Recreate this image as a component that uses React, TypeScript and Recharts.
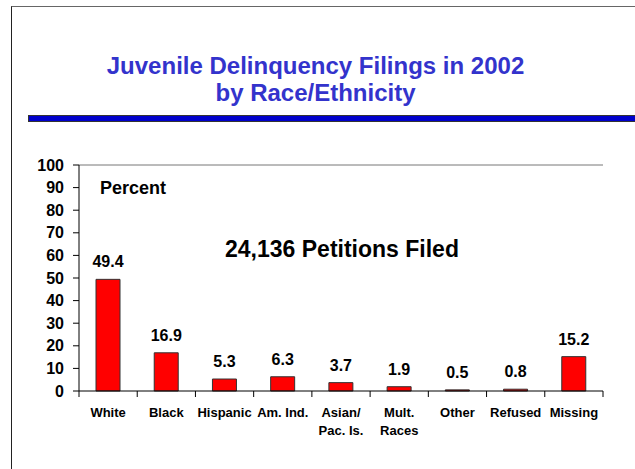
import React from 'react'
import { BarChart, Bar, XAxis, YAxis, LabelList, ReferenceLine } from 'recharts'

const categories = [
  'White',
  'Black',
  'Hispanic',
  'Am. Ind.',
  'Asian/\nPac. Is.',
  'Mult.\nRaces',
  'Other',
  'Refused',
  'Missing',
]
const percents = [49.4, 16.9, 5.3, 6.3, 3.7, 1.9, 0.5, 0.8, 15.2]
const yTicks = [0, 10, 20, 30, 40, 50, 60, 70, 80, 90, 100]

const data = categories.map((name, i) => ({ name, value: percents[i] }))

const FONT = '"Liberation Sans", Arial, sans-serif'

const CategoryTick = (props: any) => {
  const { x, y, payload, index } = props
  const half = payload?.offset ?? 0
  const lines = String(payload.value).split('\n')
  const last = index === categories.length - 1
  return (
    <g>
      <line x1={x - half} x2={x - half} y1={y} y2={y + 6} stroke="#000" />
      {last && <line x1={x + half} x2={x + half} y1={y} y2={y + 6} stroke="#000" />}
      <text
        x={x}
        y={y + 26}
        textAnchor="middle"
        fontFamily={FONT}
        fontWeight="bold"
        fontSize={13}
        fill="#000"
      >
        {lines.map((l, i) => (
          <tspan key={i} x={x} dy={i === 0 ? 0 : 18}>
            {l}
          </tspan>
        ))}
      </text>
    </g>
  )
}

export default function App() {
  return (
    <div
      style={{
        position: 'absolute',
        left: 0,
        top: 0,
        width: 635,
        height: 469,
        background: '#fff',
        overflow: 'hidden',
        fontFamily: FONT,
      }}
    >
      {/* slide frame */}
      <div
        style={{
          position: 'absolute',
          left: 11,
          top: 6,
          width: 640,
          height: 480,
          borderLeft: '1px solid #222',
          borderTop: '1px solid #666',
        }}
      />
      <div
        style={{
          position: 'absolute',
          left: 0,
          top: 52,
          width: 631,
          textAlign: 'center',
          color: '#3333CC',
          fontWeight: 'bold',
          fontSize: 24,
          lineHeight: '27px',
        }}
      >
        Juvenile Delinquency Filings in 2002
        <br />
        by Race/Ethnicity
      </div>
      <div
        style={{
          position: 'absolute',
          left: 28,
          top: 115,
          width: 620,
          height: 5,
          background: '#0000CC',
          border: '1px solid #333',
        }}
      />
      <BarChart
        width={635}
        height={469}
        data={data}
        margin={{ top: 165, right: 32, bottom: 28, left: 29 }}
        barSize={24}
      >
        <ReferenceLine y={100} stroke="#777" strokeWidth={1} />
        <XAxis
          dataKey="name"
          interval={0}
          height={50}
          axisLine={{ stroke: '#000' }}
          tickLine={false}
          tickSize={0}
          tickMargin={0}
          tick={<CategoryTick />}
        />
        <YAxis
          domain={[0, 100]}
          ticks={yTicks}
          interval={0}
          width={50}
          axisLine={{ stroke: '#000' }}
          tickLine={{ stroke: '#000' }}
          tickSize={6}
          tickMargin={9}
          tick={{ fontFamily: FONT, fontWeight: 'bold', fontSize: 16, fill: '#000' }}
        />
        <YAxis
          yAxisId="right"
          orientation="right"
          width={0}
          domain={[0, 100]}
          tick={false}
          tickLine={false}
          axisLine={{ stroke: '#777' }}
        />
        <Bar dataKey="value" fill="#FF0000" stroke="#333" strokeWidth={1} isAnimationActive={false}>
          <LabelList
            dataKey="value"
            position="top"
            offset={12}
            fill="#000"
            fontFamily={FONT}
            fontWeight="bold"
            fontSize={16}
          />
        </Bar>
      </BarChart>
      <div
        style={{
          position: 'absolute',
          left: 100,
          top: 179,
          fontWeight: 'bold',
          fontSize: 18,
          lineHeight: 1,
          color: '#000',
        }}
      >
        Percent
      </div>
      <div
        style={{
          position: 'absolute',
          left: 142,
          top: 238,
          width: 400,
          textAlign: 'center',
          whiteSpace: 'nowrap',
          fontWeight: 'bold',
          fontSize: 23,
          lineHeight: 1,
          color: '#000',
        }}
      >
        24,136 Petitions Filed
      </div>
    </div>
  )
}
